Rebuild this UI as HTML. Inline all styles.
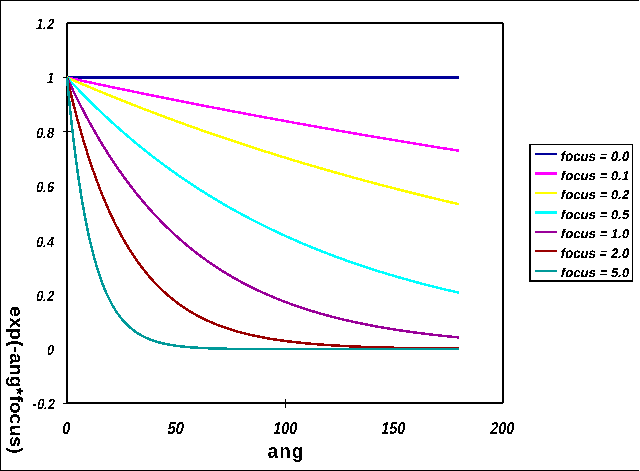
<!DOCTYPE html>
<html><head><meta charset="utf-8"><style>
html,body{margin:0;padding:0;background:#fff;width:640px;height:471px;overflow:hidden}
body{position:relative;font-family:"Liberation Sans",sans-serif}
</style></head><body>
<svg width="640" height="471" viewBox="0 0 640 471" style="position:absolute;left:0;top:0">
<defs><filter id="thr" x="-5%" y="-5%" width="110%" height="110%"><feComponentTransfer><feFuncA type="discrete" tableValues="0 1 1"/></feComponentTransfer></filter>
<filter id="thr3" x="-5%" y="-5%" width="110%" height="110%"><feComponentTransfer><feFuncA type="discrete" tableValues="0 0 1 1 1"/></feComponentTransfer></filter>
<filter id="thr2" x="-5%" y="-5%" width="110%" height="110%"><feComponentTransfer><feFuncA type="discrete" tableValues="0 1"/></feComponentTransfer></filter></defs>
<g shape-rendering="crispEdges">
<rect x="0" y="0" width="639" height="1" fill="#000"/>
<rect x="0" y="470" width="639" height="1" fill="#000"/>
<rect x="0" y="0" width="1" height="471" fill="#000"/>
<rect x="67" y="22" width="436" height="2" fill="#000"/>
<rect x="66" y="402" width="437" height="2" fill="#000"/>
<rect x="66" y="23" width="2" height="381" fill="#000"/>
<rect x="502" y="23" width="2" height="380" fill="#000"/>
<rect x="63" y="77" width="8" height="1" fill="#000"/>
<rect x="63" y="131" width="8" height="1" fill="#000"/>
<rect x="63" y="403" width="4" height="1" fill="#000"/>
<rect x="285" y="399" width="1" height="9" fill="#000"/>
<polyline points="67.00,77.50 69.18,77.50 71.36,77.50 73.53,77.50 75.71,77.50 77.89,77.50 80.07,77.50 82.25,77.50 84.42,77.50 86.60,77.50 88.78,77.50 90.96,77.50 93.14,77.50 95.31,77.50 97.49,77.50 99.67,77.50 101.85,77.50 104.03,77.50 106.20,77.50 108.38,77.50 110.56,77.50 112.74,77.50 114.92,77.50 117.09,77.50 119.27,77.50 121.45,77.50 123.63,77.50 125.81,77.50 127.98,77.50 130.16,77.50 132.34,77.50 134.52,77.50 136.70,77.50 138.87,77.50 141.05,77.50 143.23,77.50 145.41,77.50 147.59,77.50 149.76,77.50 151.94,77.50 154.12,77.50 156.30,77.50 158.48,77.50 160.65,77.50 162.83,77.50 165.01,77.50 167.19,77.50 169.37,77.50 171.54,77.50 173.72,77.50 175.90,77.50 178.08,77.50 180.26,77.50 182.43,77.50 184.61,77.50 186.79,77.50 188.97,77.50 191.15,77.50 193.32,77.50 195.50,77.50 197.68,77.50 199.86,77.50 202.04,77.50 204.21,77.50 206.39,77.50 208.57,77.50 210.75,77.50 212.93,77.50 215.10,77.50 217.28,77.50 219.46,77.50 221.64,77.50 223.82,77.50 225.99,77.50 228.17,77.50 230.35,77.50 232.53,77.50 234.71,77.50 236.88,77.50 239.06,77.50 241.24,77.50 243.42,77.50 245.60,77.50 247.77,77.50 249.95,77.50 252.13,77.50 254.31,77.50 256.49,77.50 258.66,77.50 260.84,77.50 263.02,77.50 265.20,77.50 267.38,77.50 269.55,77.50 271.73,77.50 273.91,77.50 276.09,77.50 278.27,77.50 280.44,77.50 282.62,77.50 284.80,77.50 286.98,77.50 289.16,77.50 291.33,77.50 293.51,77.50 295.69,77.50 297.87,77.50 300.05,77.50 302.22,77.50 304.40,77.50 306.58,77.50 308.76,77.50 310.94,77.50 313.11,77.50 315.29,77.50 317.47,77.50 319.65,77.50 321.83,77.50 324.00,77.50 326.18,77.50 328.36,77.50 330.54,77.50 332.72,77.50 334.89,77.50 337.07,77.50 339.25,77.50 341.43,77.50 343.61,77.50 345.78,77.50 347.96,77.50 350.14,77.50 352.32,77.50 354.50,77.50 356.67,77.50 358.85,77.50 361.03,77.50 363.21,77.50 365.39,77.50 367.56,77.50 369.74,77.50 371.92,77.50 374.10,77.50 376.28,77.50 378.45,77.50 380.63,77.50 382.81,77.50 384.99,77.50 387.17,77.50 389.34,77.50 391.52,77.50 393.70,77.50 395.88,77.50 398.06,77.50 400.23,77.50 402.41,77.50 404.59,77.50 406.77,77.50 408.95,77.50 411.12,77.50 413.30,77.50 415.48,77.50 417.66,77.50 419.84,77.50 422.01,77.50 424.19,77.50 426.37,77.50 428.55,77.50 430.73,77.50 432.90,77.50 435.08,77.50 437.26,77.50 439.44,77.50 441.62,77.50 443.79,77.50 445.97,77.50 448.15,77.50 450.33,77.50 452.51,77.50 454.68,77.50 456.86,77.50 459.04,77.50" fill="none" stroke="#000099" stroke-width="2.5" stroke-linejoin="round"/><polyline points="67.00,77.50 69.18,77.97 71.36,78.45 73.53,78.92 75.71,79.39 77.89,79.86 80.07,80.33 82.25,80.80 84.42,81.27 86.60,81.73 88.78,82.20 90.96,82.67 93.14,83.13 95.31,83.60 97.49,84.06 99.67,84.52 101.85,84.98 104.03,85.44 106.20,85.90 108.38,86.36 110.56,86.82 112.74,87.28 114.92,87.73 117.09,88.19 119.27,88.65 121.45,89.10 123.63,89.55 125.81,90.01 127.98,90.46 130.16,90.91 132.34,91.36 134.52,91.81 136.70,92.26 138.87,92.71 141.05,93.15 143.23,93.60 145.41,94.05 147.59,94.49 149.76,94.94 151.94,95.38 154.12,95.82 156.30,96.26 158.48,96.70 160.65,97.14 162.83,97.58 165.01,98.02 167.19,98.46 169.37,98.90 171.54,99.33 173.72,99.77 175.90,100.21 178.08,100.64 180.26,101.07 182.43,101.51 184.61,101.94 186.79,102.37 188.97,102.80 191.15,103.23 193.32,103.66 195.50,104.09 197.68,104.51 199.86,104.94 202.04,105.37 204.21,105.79 206.39,106.22 208.57,106.64 210.75,107.06 212.93,107.48 215.10,107.91 217.28,108.33 219.46,108.75 221.64,109.17 223.82,109.58 225.99,110.00 228.17,110.42 230.35,110.84 232.53,111.25 234.71,111.67 236.88,112.08 239.06,112.49 241.24,112.91 243.42,113.32 245.60,113.73 247.77,114.14 249.95,114.55 252.13,114.96 254.31,115.37 256.49,115.78 258.66,116.18 260.84,116.59 263.02,117.00 265.20,117.40 267.38,117.80 269.55,118.21 271.73,118.61 273.91,119.01 276.09,119.41 278.27,119.82 280.44,120.22 282.62,120.61 284.80,121.01 286.98,121.41 289.16,121.81 291.33,122.20 293.51,122.60 295.69,123.00 297.87,123.39 300.05,123.78 302.22,124.18 304.40,124.57 306.58,124.96 308.76,125.35 310.94,125.74 313.11,126.13 315.29,126.52 317.47,126.91 319.65,127.30 321.83,127.68 324.00,128.07 326.18,128.46 328.36,128.84 330.54,129.23 332.72,129.61 334.89,129.99 337.07,130.37 339.25,130.76 341.43,131.14 343.61,131.52 345.78,131.90 347.96,132.28 350.14,132.65 352.32,133.03 354.50,133.41 356.67,133.78 358.85,134.16 361.03,134.53 363.21,134.91 365.39,135.28 367.56,135.66 369.74,136.03 371.92,136.40 374.10,136.77 376.28,137.14 378.45,137.51 380.63,137.88 382.81,138.25 384.99,138.62 387.17,138.98 389.34,139.35 391.52,139.72 393.70,140.08 395.88,140.45 398.06,140.81 400.23,141.17 402.41,141.54 404.59,141.90 406.77,142.26 408.95,142.62 411.12,142.98 413.30,143.34 415.48,143.70 417.66,144.06 419.84,144.42 422.01,144.77 424.19,145.13 426.37,145.49 428.55,145.84 430.73,146.20 432.90,146.55 435.08,146.90 437.26,147.26 439.44,147.61 441.62,147.96 443.79,148.31 445.97,148.66 448.15,149.01 450.33,149.36 452.51,149.71 454.68,150.06 456.86,150.40 459.04,150.75" fill="none" stroke="#FF00FF" stroke-width="2.5" stroke-linejoin="round"/><polyline points="67.00,77.50 69.18,78.45 71.36,79.39 73.53,80.33 75.71,81.27 77.89,82.20 80.07,83.13 82.25,84.06 84.42,84.98 86.60,85.90 88.78,86.82 90.96,87.73 93.14,88.65 95.31,89.55 97.49,90.46 99.67,91.36 101.85,92.26 104.03,93.15 106.20,94.05 108.38,94.94 110.56,95.82 112.74,96.70 114.92,97.58 117.09,98.46 119.27,99.33 121.45,100.21 123.63,101.07 125.81,101.94 127.98,102.80 130.16,103.66 132.34,104.51 134.52,105.37 136.70,106.22 138.87,107.06 141.05,107.91 143.23,108.75 145.41,109.58 147.59,110.42 149.76,111.25 151.94,112.08 154.12,112.91 156.30,113.73 158.48,114.55 160.65,115.37 162.83,116.18 165.01,117.00 167.19,117.80 169.37,118.61 171.54,119.41 173.72,120.22 175.90,121.01 178.08,121.81 180.26,122.60 182.43,123.39 184.61,124.18 186.79,124.96 188.97,125.74 191.15,126.52 193.32,127.30 195.50,128.07 197.68,128.84 199.86,129.61 202.04,130.37 204.21,131.14 206.39,131.90 208.57,132.65 210.75,133.41 212.93,134.16 215.10,134.91 217.28,135.66 219.46,136.40 221.64,137.14 223.82,137.88 225.99,138.62 228.17,139.35 230.35,140.08 232.53,140.81 234.71,141.54 236.88,142.26 239.06,142.98 241.24,143.70 243.42,144.42 245.60,145.13 247.77,145.84 249.95,146.55 252.13,147.26 254.31,147.96 256.49,148.66 258.66,149.36 260.84,150.06 263.02,150.75 265.20,151.44 267.38,152.13 269.55,152.82 271.73,153.50 273.91,154.18 276.09,154.86 278.27,155.54 280.44,156.21 282.62,156.89 284.80,157.56 286.98,158.23 289.16,158.89 291.33,159.55 293.51,160.21 295.69,160.87 297.87,161.53 300.05,162.18 302.22,162.83 304.40,163.48 306.58,164.13 308.76,164.78 310.94,165.42 313.11,166.06 315.29,166.70 317.47,167.33 319.65,167.97 321.83,168.60 324.00,169.23 326.18,169.86 328.36,170.48 330.54,171.10 332.72,171.72 334.89,172.34 337.07,172.96 339.25,173.57 341.43,174.18 343.61,174.79 345.78,175.40 347.96,176.01 350.14,176.61 352.32,177.21 354.50,177.81 356.67,178.41 358.85,179.00 361.03,179.60 363.21,180.19 365.39,180.78 367.56,181.36 369.74,181.95 371.92,182.53 374.10,183.11 376.28,183.69 378.45,184.27 380.63,184.84 382.81,185.42 384.99,185.99 387.17,186.55 389.34,187.12 391.52,187.69 393.70,188.25 395.88,188.81 398.06,189.37 400.23,189.93 402.41,190.48 404.59,191.03 406.77,191.58 408.95,192.13 411.12,192.68 413.30,193.23 415.48,193.77 417.66,194.31 419.84,194.85 422.01,195.39 424.19,195.93 426.37,196.46 428.55,196.99 430.73,197.52 432.90,198.05 435.08,198.58 437.26,199.10 439.44,199.63 441.62,200.15 443.79,200.67 445.97,201.18 448.15,201.70 450.33,202.21 452.51,202.73 454.68,203.24 456.86,203.74 459.04,204.25" fill="none" stroke="#FFFF00" stroke-width="2.5" stroke-linejoin="round"/><polyline points="67.00,77.50 69.18,79.86 71.36,82.20 73.53,84.52 75.71,86.82 77.89,89.10 80.07,91.36 82.25,93.60 84.42,95.82 86.60,98.02 88.78,100.21 90.96,102.37 93.14,104.51 95.31,106.64 97.49,108.75 99.67,110.84 101.85,112.91 104.03,114.96 106.20,117.00 108.38,119.01 110.56,121.01 112.74,123.00 114.92,124.96 117.09,126.91 119.27,128.84 121.45,130.76 123.63,132.65 125.81,134.53 127.98,136.40 130.16,138.25 132.34,140.08 134.52,141.90 136.70,143.70 138.87,145.49 141.05,147.26 143.23,149.01 145.41,150.75 147.59,152.47 149.76,154.18 151.94,155.88 154.12,157.56 156.30,159.22 158.48,160.87 160.65,162.51 162.83,164.13 165.01,165.74 167.19,167.33 169.37,168.91 171.54,170.48 173.72,172.03 175.90,173.57 178.08,175.10 180.26,176.61 182.43,178.11 184.61,179.60 186.79,181.07 188.97,182.53 191.15,183.98 193.32,185.42 195.50,186.84 197.68,188.25 199.86,189.65 202.04,191.03 204.21,192.41 206.39,193.77 208.57,195.12 210.75,196.46 212.93,197.79 215.10,199.10 217.28,200.41 219.46,201.70 221.64,202.98 223.82,204.25 225.99,205.51 228.17,206.76 230.35,208.00 232.53,209.22 234.71,210.44 236.88,211.65 239.06,212.84 241.24,214.03 243.42,215.20 245.60,216.36 247.77,217.52 249.95,218.66 252.13,219.80 254.31,220.92 256.49,222.04 258.66,223.14 260.84,224.24 263.02,225.32 265.20,226.40 267.38,227.46 269.55,228.52 271.73,229.57 273.91,230.61 276.09,231.64 278.27,232.66 280.44,233.67 282.62,234.68 284.80,235.67 286.98,236.66 289.16,237.64 291.33,238.61 293.51,239.57 295.69,240.52 297.87,241.47 300.05,242.40 302.22,243.33 304.40,244.25 306.58,245.16 308.76,246.06 310.94,246.96 313.11,247.85 315.29,248.73 317.47,249.60 319.65,250.47 321.83,251.33 324.00,252.18 326.18,253.02 328.36,253.86 330.54,254.68 332.72,255.50 334.89,256.32 337.07,257.13 339.25,257.93 341.43,258.72 343.61,259.51 345.78,260.28 347.96,261.06 350.14,261.82 352.32,262.58 354.50,263.33 356.67,264.08 358.85,264.82 361.03,265.55 363.21,266.28 365.39,267.00 367.56,267.71 369.74,268.42 371.92,269.12 374.10,269.82 376.28,270.51 378.45,271.19 380.63,271.87 382.81,272.54 384.99,273.21 387.17,273.87 389.34,274.52 391.52,275.17 393.70,275.82 395.88,276.45 398.06,277.09 400.23,277.71 402.41,278.33 404.59,278.95 406.77,279.56 408.95,280.16 411.12,280.76 413.30,281.36 415.48,281.95 417.66,282.53 419.84,283.11 422.01,283.69 424.19,284.26 426.37,284.82 428.55,285.38 430.73,285.93 432.90,286.48 435.08,287.03 437.26,287.57 439.44,288.10 441.62,288.64 443.79,289.16 445.97,289.68 448.15,290.20 450.33,290.71 452.51,291.22 454.68,291.72 456.86,292.22 459.04,292.72" fill="none" stroke="#00FFFF" stroke-width="2.5" stroke-linejoin="round"/><polyline points="67.00,77.50 69.18,82.20 71.36,86.82 73.53,91.36 75.71,95.82 77.89,100.21 80.07,104.51 82.25,108.75 84.42,112.91 86.60,117.00 88.78,121.01 90.96,124.96 93.14,128.84 95.31,132.65 97.49,136.40 99.67,140.08 101.85,143.70 104.03,147.26 106.20,150.75 108.38,154.18 110.56,157.56 112.74,160.87 114.92,164.13 117.09,167.33 119.27,170.48 121.45,173.57 123.63,176.61 125.81,179.60 127.98,182.53 130.16,185.42 132.34,188.25 134.52,191.03 136.70,193.77 138.87,196.46 141.05,199.10 143.23,201.70 145.41,204.25 147.59,206.76 149.76,209.22 151.94,211.65 154.12,214.03 156.30,216.36 158.48,218.66 160.65,220.92 162.83,223.14 165.01,225.32 167.19,227.46 169.37,229.57 171.54,231.64 173.72,233.67 175.90,235.67 178.08,237.64 180.26,239.57 182.43,241.47 184.61,243.33 186.79,245.16 188.97,246.96 191.15,248.73 193.32,250.47 195.50,252.18 197.68,253.86 199.86,255.50 202.04,257.13 204.21,258.72 206.39,260.28 208.57,261.82 210.75,263.33 212.93,264.82 215.10,266.28 217.28,267.71 219.46,269.12 221.64,270.51 223.82,271.87 225.99,273.21 228.17,274.52 230.35,275.82 232.53,277.09 234.71,278.33 236.88,279.56 239.06,280.76 241.24,281.95 243.42,283.11 245.60,284.26 247.77,285.38 249.95,286.48 252.13,287.57 254.31,288.64 256.49,289.68 258.66,290.71 260.84,291.72 263.02,292.72 265.20,293.70 267.38,294.66 269.55,295.60 271.73,296.53 273.91,297.44 276.09,298.33 278.27,299.21 280.44,300.08 282.62,300.93 284.80,301.76 286.98,302.59 289.16,303.39 291.33,304.18 293.51,304.96 295.69,305.73 297.87,306.48 300.05,307.22 302.22,307.95 304.40,308.66 306.58,309.36 308.76,310.05 310.94,310.73 313.11,311.39 315.29,312.05 317.47,312.69 319.65,313.32 321.83,313.94 324.00,314.55 326.18,315.15 328.36,315.74 330.54,316.32 332.72,316.89 334.89,317.45 337.07,318.00 339.25,318.54 341.43,319.07 343.61,319.59 345.78,320.10 347.96,320.61 350.14,321.10 352.32,321.59 354.50,322.06 356.67,322.53 358.85,322.99 361.03,323.45 363.21,323.89 365.39,324.33 367.56,324.76 369.74,325.18 371.92,325.60 374.10,326.01 376.28,326.41 378.45,326.80 380.63,327.19 382.81,327.57 384.99,327.95 387.17,328.31 389.34,328.68 391.52,329.03 393.70,329.38 395.88,329.72 398.06,330.06 400.23,330.39 402.41,330.72 404.59,331.04 406.77,331.35 408.95,331.66 411.12,331.96 413.30,332.26 415.48,332.55 417.66,332.84 419.84,333.13 422.01,333.40 424.19,333.68 426.37,333.95 428.55,334.21 430.73,334.47 432.90,334.72 435.08,334.97 437.26,335.22 439.44,335.46 441.62,335.70 443.79,335.93 445.97,336.16 448.15,336.39 450.33,336.61 452.51,336.83 454.68,337.04 456.86,337.25 459.04,337.46" fill="none" stroke="#990099" stroke-width="2.5" stroke-linejoin="round"/><polyline points="67.00,77.50 69.18,86.82 71.36,95.82 73.53,104.51 75.71,112.91 77.89,121.01 80.07,128.84 82.25,136.40 84.42,143.70 86.60,150.75 88.78,157.56 90.96,164.13 93.14,170.48 95.31,176.61 97.49,182.53 99.67,188.25 101.85,193.77 104.03,199.10 106.20,204.25 108.38,209.22 110.56,214.03 112.74,218.66 114.92,223.14 117.09,227.46 119.27,231.64 121.45,235.67 123.63,239.57 125.81,243.33 127.98,246.96 130.16,250.47 132.34,253.86 134.52,257.13 136.70,260.28 138.87,263.33 141.05,266.28 143.23,269.12 145.41,271.87 147.59,274.52 149.76,277.09 151.94,279.56 154.12,281.95 156.30,284.26 158.48,286.48 160.65,288.64 162.83,290.71 165.01,292.72 167.19,294.66 169.37,296.53 171.54,298.33 173.72,300.08 175.90,301.76 178.08,303.39 180.26,304.96 182.43,306.48 184.61,307.95 186.79,309.36 188.97,310.73 191.15,312.05 193.32,313.32 195.50,314.55 197.68,315.74 199.86,316.89 202.04,318.00 204.21,319.07 206.39,320.10 208.57,321.10 210.75,322.06 212.93,322.99 215.10,323.89 217.28,324.76 219.46,325.60 221.64,326.41 223.82,327.19 225.99,327.95 228.17,328.68 230.35,329.38 232.53,330.06 234.71,330.72 236.88,331.35 239.06,331.96 241.24,332.55 243.42,333.13 245.60,333.68 247.77,334.21 249.95,334.72 252.13,335.22 254.31,335.70 256.49,336.16 258.66,336.61 260.84,337.04 263.02,337.46 265.20,337.86 267.38,338.25 269.55,338.63 271.73,338.99 273.91,339.34 276.09,339.68 278.27,340.00 280.44,340.32 282.62,340.62 284.80,340.92 286.98,341.20 289.16,341.48 291.33,341.74 293.51,342.00 295.69,342.24 297.87,342.48 300.05,342.71 302.22,342.94 304.40,343.15 306.58,343.36 308.76,343.56 310.94,343.75 313.11,343.94 315.29,344.12 317.47,344.29 319.65,344.46 321.83,344.62 324.00,344.78 326.18,344.93 328.36,345.08 330.54,345.22 332.72,345.36 334.89,345.49 337.07,345.62 339.25,345.74 341.43,345.86 343.61,345.97 345.78,346.08 347.96,346.19 350.14,346.29 352.32,346.39 354.50,346.49 356.67,346.58 358.85,346.67 361.03,346.76 363.21,346.84 365.39,346.92 367.56,347.00 369.74,347.08 371.92,347.15 374.10,347.22 376.28,347.29 378.45,347.35 380.63,347.42 382.81,347.48 384.99,347.54 387.17,347.59 389.34,347.65 391.52,347.70 393.70,347.75 395.88,347.80 398.06,347.85 400.23,347.90 402.41,347.94 404.59,347.99 406.77,348.03 408.95,348.07 411.12,348.11 413.30,348.14 415.48,348.18 417.66,348.22 419.84,348.25 422.01,348.28 424.19,348.31 426.37,348.34 428.55,348.37 430.73,348.40 432.90,348.43 435.08,348.46 437.26,348.48 439.44,348.51 441.62,348.53 443.79,348.55 445.97,348.57 448.15,348.60 450.33,348.62 452.51,348.64 454.68,348.66 456.86,348.67 459.04,348.69" fill="none" stroke="#990000" stroke-width="2.5" stroke-linejoin="round"/><polyline points="67.00,77.50 69.18,100.21 71.36,121.01 73.53,140.08 75.71,157.56 77.89,173.57 80.07,188.25 82.25,201.70 84.42,214.03 86.60,225.32 88.78,235.67 90.96,245.16 93.14,253.86 95.31,261.82 97.49,269.12 99.67,275.82 101.85,281.95 104.03,287.57 106.20,292.72 108.38,297.44 110.56,301.76 112.74,305.73 114.92,309.36 117.09,312.69 119.27,315.74 121.45,318.54 123.63,321.10 125.81,323.45 127.98,325.60 130.16,327.57 132.34,329.38 134.52,331.04 136.70,332.55 138.87,333.95 141.05,335.22 143.23,336.39 145.41,337.46 147.59,338.44 149.76,339.34 151.94,340.16 154.12,340.92 156.30,341.61 158.48,342.24 160.65,342.83 162.83,343.36 165.01,343.85 167.19,344.29 169.37,344.70 171.54,345.08 173.72,345.42 175.90,345.74 178.08,346.03 180.26,346.29 182.43,346.54 184.61,346.76 186.79,346.96 188.97,347.15 191.15,347.32 193.32,347.48 195.50,347.62 197.68,347.75 199.86,347.87 202.04,347.99 204.21,348.09 206.39,348.18 208.57,348.27 210.75,348.34 212.93,348.42 215.10,348.48 217.28,348.54 219.46,348.60 221.64,348.65 223.82,348.69 225.99,348.74 228.17,348.77 230.35,348.81 232.53,348.84 234.71,348.87 236.88,348.90 239.06,348.92 241.24,348.95 243.42,348.97 245.60,348.99 247.77,349.01 249.95,349.02 252.13,349.04 254.31,349.05 256.49,349.06 258.66,349.07 260.84,349.08 263.02,349.09 265.20,349.10 267.38,349.11 269.55,349.12 271.73,349.13 273.91,349.13 276.09,349.14 278.27,349.14 280.44,349.15 282.62,349.15 284.80,349.16 286.98,349.16 289.16,349.16 291.33,349.17 293.51,349.17 295.69,349.17 297.87,349.17 300.05,349.18 302.22,349.18 304.40,349.18 306.58,349.18 308.76,349.18 310.94,349.18 313.11,349.19 315.29,349.19 317.47,349.19 319.65,349.19 321.83,349.19 324.00,349.19 326.18,349.19 328.36,349.19 330.54,349.19 332.72,349.19 334.89,349.19 337.07,349.19 339.25,349.20 341.43,349.20 343.61,349.20 345.78,349.20 347.96,349.20 350.14,349.20 352.32,349.20 354.50,349.20 356.67,349.20 358.85,349.20 361.03,349.20 363.21,349.20 365.39,349.20 367.56,349.20 369.74,349.20 371.92,349.20 374.10,349.20 376.28,349.20 378.45,349.20 380.63,349.20 382.81,349.20 384.99,349.20 387.17,349.20 389.34,349.20 391.52,349.20 393.70,349.20 395.88,349.20 398.06,349.20 400.23,349.20 402.41,349.20 404.59,349.20 406.77,349.20 408.95,349.20 411.12,349.20 413.30,349.20 415.48,349.20 417.66,349.20 419.84,349.20 422.01,349.20 424.19,349.20 426.37,349.20 428.55,349.20 430.73,349.20 432.90,349.20 435.08,349.20 437.26,349.20 439.44,349.20 441.62,349.20 443.79,349.20 445.97,349.20 448.15,349.20 450.33,349.20 452.51,349.20 454.68,349.20 456.86,349.20 459.04,349.20" fill="none" stroke="#009999" stroke-width="2.5" stroke-linejoin="round"/>
<rect x="529" y="144" width="104" height="1" fill="#000"/>
<rect x="529" y="280" width="104" height="2" fill="#000"/>
<rect x="529" y="144" width="2" height="138" fill="#000"/>
<rect x="632" y="144" width="1" height="138" fill="#000"/>
<rect x="535" y="153" width="22" height="2" fill="#000099"/><rect x="535" y="172" width="22" height="3" fill="#FF00FF"/><rect x="535" y="192" width="22" height="2" fill="#FFFF00"/><rect x="535" y="211" width="22" height="3" fill="#00FFFF"/><rect x="535" y="231" width="22" height="2" fill="#990099"/><rect x="535" y="250" width="22" height="2" fill="#990000"/><rect x="535" y="270" width="22" height="2" fill="#009999"/>
</g>
<g filter="url(#thr2)">
<text transform="translate(53.3,28.5) scale(0.95,1.1) skewX(-12)" text-anchor="end" font-family="Liberation Sans, sans-serif" font-size="13.5" font-weight="bold">1.2</text><text transform="translate(53.3,83) scale(0.95,1.1) skewX(-12)" text-anchor="end" font-family="Liberation Sans, sans-serif" font-size="13.5" font-weight="bold">1</text><text transform="translate(53.3,137.5) scale(0.95,1.1) skewX(-12)" text-anchor="end" font-family="Liberation Sans, sans-serif" font-size="13.5" font-weight="bold">0.8</text><text transform="translate(53.3,191.5) scale(0.95,1.1) skewX(-12)" text-anchor="end" font-family="Liberation Sans, sans-serif" font-size="13.5" font-weight="bold">0.6</text><text transform="translate(53.3,246.7) scale(0.95,1.1) skewX(-12)" text-anchor="end" font-family="Liberation Sans, sans-serif" font-size="13.5" font-weight="bold">0.4</text><text transform="translate(53.3,300.7) scale(0.95,1.1) skewX(-12)" text-anchor="end" font-family="Liberation Sans, sans-serif" font-size="13.5" font-weight="bold">0.2</text><text transform="translate(53.3,354.5) scale(0.95,1.1) skewX(-12)" text-anchor="end" font-family="Liberation Sans, sans-serif" font-size="13.5" font-weight="bold">0</text><text transform="translate(54.2,409.4) scale(0.95,1.1) skewX(-12)" text-anchor="end" font-family="Liberation Sans, sans-serif" font-size="13.5" font-weight="bold">-0.2</text>
<text transform="translate(65.3,433.5) scale(1,1.15) skewX(-12)" text-anchor="middle" font-family="Liberation Sans, sans-serif" font-size="15" font-weight="bold">0</text><text transform="translate(174.8,433.5) scale(1,1.15) skewX(-12)" text-anchor="middle" font-family="Liberation Sans, sans-serif" font-size="15" font-weight="bold">50</text><text transform="translate(284.6,433.5) scale(0.96,1.15) skewX(-12)" text-anchor="middle" font-family="Liberation Sans, sans-serif" font-size="15" font-weight="bold">100</text><text transform="translate(392.6,433.5) scale(0.96,1.15) skewX(-12)" text-anchor="middle" font-family="Liberation Sans, sans-serif" font-size="15" font-weight="bold">150</text><text transform="translate(501.6,433.5) scale(0.96,1.15) skewX(-12)" text-anchor="middle" font-family="Liberation Sans, sans-serif" font-size="15" font-weight="bold">200</text>
<text transform="translate(286,457.5) scale(1,1.05)" text-anchor="middle" font-family="Liberation Sans, sans-serif" font-size="19" font-weight="bold" letter-spacing="1">ang</text>
<text transform="translate(10.4,380.0) rotate(90) scale(0.995,0.94)" text-anchor="middle" font-family="Liberation Sans, sans-serif" font-size="19.6" font-weight="bold">exp(-ang*focus)</text>
</g>
<g filter="url(#thr3)">
<text transform="translate(560,160.5) scale(1,1.05) skewX(-12)" text-anchor="start" font-family="Liberation Sans, sans-serif" font-size="13.2" font-weight="bold">focus = 0.0</text><text transform="translate(560,179.7) scale(1,0.97) skewX(-12)" text-anchor="start" font-family="Liberation Sans, sans-serif" font-size="13.2" font-weight="bold">focus = 0.1</text><text transform="translate(560,198.7) scale(1,0.97) skewX(-12)" text-anchor="start" font-family="Liberation Sans, sans-serif" font-size="13.2" font-weight="bold">focus = 0.2</text><text transform="translate(560,218.7) scale(1,0.97) skewX(-12)" text-anchor="start" font-family="Liberation Sans, sans-serif" font-size="13.2" font-weight="bold">focus = 0.5</text><text transform="translate(560,237.7) scale(1,0.97) skewX(-12)" text-anchor="start" font-family="Liberation Sans, sans-serif" font-size="13.2" font-weight="bold">focus = 1.0</text><text transform="translate(560,257.5) scale(1,1.05) skewX(-12)" text-anchor="start" font-family="Liberation Sans, sans-serif" font-size="13.2" font-weight="bold">focus = 2.0</text><text transform="translate(560,276.7) scale(1,0.97) skewX(-12)" text-anchor="start" font-family="Liberation Sans, sans-serif" font-size="13.2" font-weight="bold">focus = 5.0</text>
</g>
</svg>
</body></html>
